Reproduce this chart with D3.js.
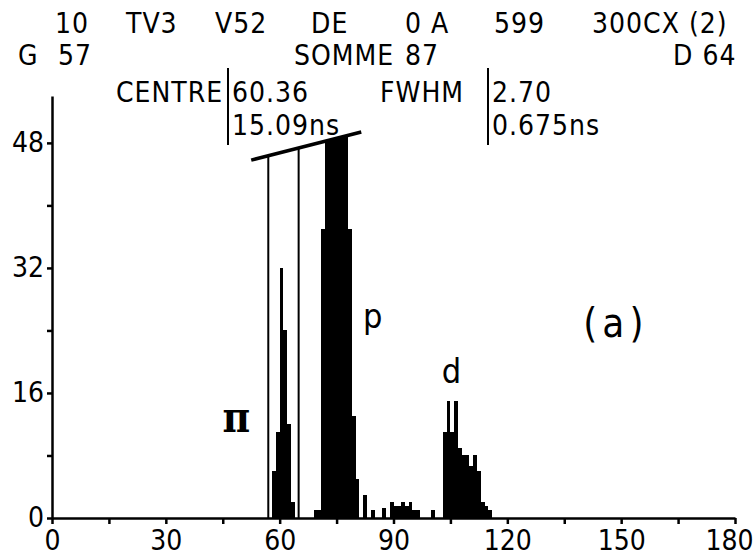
<!DOCTYPE html>
<html>
<head>
<meta charset="utf-8">
<script src="https://cdn.jsdelivr.net/npm/d3@7"></script>
<style>
    body { margin: 0; background: #fff; }
    text { font-family: "DejaVu Sans Condensed", "DejaVu Sans", sans-serif; font-stretch: condensed; fill: #000; }
</style>
</head>
<body>
<svg></svg>
<script>
// histogram: channel and counts
var channels = [58, 59, 60, 61, 62, 63, 69, 70,
                71, 72, 73, 74, 75, 76, 77, 78, 79, 80,
                82, 84, 87, 89, 90, 91, 92, 93, 94, 95, 96, 100,
                103, 104, 105, 106, 107, 108, 109, 110, 111, 112, 113, 114, 115];
var counts = [6, 11, 32, 24, 12, 2, 1, 1,
              37, 50, 50, 50, 50, 50, 50, 37, 13, 5,
              3, 1, 1.3, 2, 1.5, 1.5, 2, 1.5, 2, 1, 1, 1,
              11, 15, 11, 15, 9, 8, 8, 6.6, 8, 6, 2, 1.5, 1];

// window markers G / D and the slanted cap bar
var markerG = 57;
var markerD = 64;
var capX = [52.5, 81.5];
var capY = [45.8, 49.4];

var xTicks = [0, 15, 30, 45, 60, 75, 90, 105, 120, 135, 150, 165, 180];
var yTicks = [0, 8, 16, 24, 32, 40, 48];

var headerRow1 = ["10", "TV3", "V52", "DE", "0 A", "599", "300CX (2)"];
var headerRow2 = ["G", "57", "SOMME", "87", "D 64"];
var headerRow3 = ["CENTRE", "60.36", "FWHM", "2.70"];
var headerRow4 = ["15.09ns", "0.675ns"];

var peakLabels = ["\u03c0", "p", "d"];
var peakLabelX = [48.6, 84.5, 105.3];
var peakLabelY = [11, 24.3, 17.3];

var screen = {width: 754, height: 557};

var setup = function()
{
    var svg = d3.select("svg")
        .attr("width", screen.width)
        .attr("height", screen.height);

    var xScale = d3.scaleLinear()
                    .domain([0, 180])
                    .range([52, 735]);

    var yScale = d3.scaleLinear()
                    .domain([0, 54])
                    .range([518, 96]);

    var xAxis = d3.axisBottom(xScale)
        .tickValues(xTicks)
        .tickSize(6)
        .tickSizeOuter(0)
        .tickPadding(6)
        .tickFormat(function(d){ return d % 30 === 0 ? d : ""; });

    var yAxis = d3.axisLeft(yScale)
        .tickValues(yTicks)
        .tickSize(5)
        .tickSizeOuter(0)
        .tickPadding(3)
        .tickFormat(function(d){ return d % 16 === 0 ? d : ""; });

    svg.append("g")
        .attr("id", "xAxis")
        .attr("transform", "translate(0," + yScale(0) + ")")
        .call(xAxis);

    svg.append("g")
        .attr("id", "yAxis")
        .attr("transform", "translate(" + xScale(0) + ",0)")
        .call(yAxis);

    svg.selectAll(".domain, .tick line")
        .attr("stroke", "black")
        .attr("stroke-width", 2.5);

    svg.selectAll(".tick text")
        .attr("font-size", 28)
        .attr("fill", "black")
        .attr("font-family", null);

    // last x label sits against the right edge
    d3.selectAll("#xAxis .tick text")
        .filter(function(d){ return d === 180; })
        .attr("text-anchor", "end")
        .attr("dx", 18);

    draw(svg, xScale, yScale);
    header(svg);
}

var capAt = function(v)
{
    return capY[0] + (v - capX[0]) * (capY[1] - capY[0]) / (capX[1] - capX[0]);
}

var draw = function(svg, xScale, yScale)
{
    // clip bars that go past the slanted bar
    svg.append("clipPath")
        .attr("id", "cap")
        .append("polygon")
        .attr("points", [
            [xScale(0), 0], [xScale(capX[0]), 0],
            [xScale(capX[0]), yScale(capY[0])], [xScale(capX[1]), yScale(capY[1])],
            [xScale(capX[1]), 0], [xScale(180), 0],
            [xScale(180), yScale(0)], [xScale(0), yScale(0)]
        ].map(function(p){ return p.join(","); }).join(" "));

    svg.append("g")
        .attr("id", "bars")
        .attr("clip-path", "url(#cap)")
        .selectAll("rect")
        .data(channels)
        .enter()
        .append("rect")
        .attr("fill", "black")
        .attr("shape-rendering", "crispEdges")
        .attr("x", function(ch){ return xScale(ch); })
        .attr("width", function(ch){ return xScale(ch + 1) - xScale(ch); })
        .attr("y", function(ch, i){ return yScale(counts[i]); })
        .attr("height", function(ch, i){ return yScale(0) - yScale(counts[i]); });

    var markers = svg.append("g")
        .attr("id", "markers")
        .attr("stroke", "black")
        .attr("stroke-width", 2);

    markers.selectAll("line")
        .data([markerG, markerD + 1])
        .enter()
        .append("line")
        .attr("x1", function(m){ return xScale(m); })
        .attr("x2", function(m){ return xScale(m); })
        .attr("y1", yScale(0))
        .attr("y2", function(m){ return yScale(capAt(m)); });

    markers.append("line")
        .attr("x1", xScale(capX[0]))
        .attr("y1", yScale(capY[0]))
        .attr("x2", xScale(capX[1]))
        .attr("y2", yScale(capY[1]))
        .attr("stroke-width", 3.5);

    svg.append("g")
        .attr("id", "peaks")
        .selectAll("text")
        .data(peakLabels)
        .enter()
        .append("text")
        .attr("x", function(t, i){ return xScale(peakLabelX[i]); })
        .attr("y", function(t, i){ return yScale(peakLabelY[i]); })
        .attr("text-anchor", "middle")
        .attr("font-size", function(t, i){ return i === 0 ? 42 : 34; })
        .attr("font-weight", function(t, i){ return i === 0 ? "bold" : null; })
        .style("font-family", function(t, i){ return i === 0 ? "DejaVu Serif" : "DejaVu Sans"; })
        .text(function(t){ return t; });

    svg.append("text")
        .attr("x", xScale(148.6))
        .attr("y", yScale(23.2))
        .attr("text-anchor", "middle")
        .attr("font-size", 40)
        .attr("letter-spacing", 5)
        .style("font-family", "DejaVu Sans")
        .text("(a)");
}

var header = function(svg)
{
    var row = function(labels, xs, y)
    {
        svg.append("g")
            .selectAll("text")
            .data(labels)
            .enter()
            .append("text")
            .attr("x", function(t, i){ return xs[i]; })
            .attr("y", y)
            .attr("font-size", 28)
            .attr("letter-spacing", 1)
            .text(function(t){ return t; });
    }

    row(headerRow1, [55, 126, 215, 311, 405, 494, 592], 33);
    row(headerRow2, [18, 58, 294, 405, 673], 65);
    row(headerRow3, [116, 232, 380, 492], 102);
    row(headerRow4, [232, 492], 135);

    svg.append("g")
        .attr("stroke", "black")
        .attr("stroke-width", 2)
        .selectAll("line")
        .data([228, 488])
        .enter()
        .append("line")
        .attr("x1", function(d){ return d; })
        .attr("x2", function(d){ return d; })
        .attr("y1", 68)
        .attr("y2", 145);
}

setup();
</script>
</body>
</html>
